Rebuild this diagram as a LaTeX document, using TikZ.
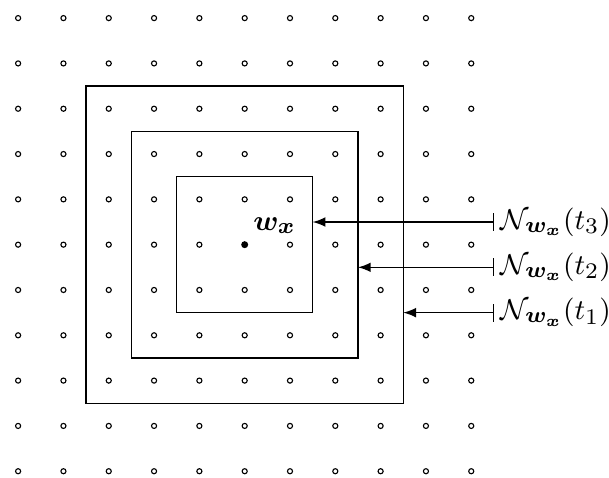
\documentclass[tikz,border=0pt]{standalone}
\usepackage{amsmath,amssymb,bm}
\begin{document}
\begin{tikzpicture}[x=0.5cm,y=0.5cm,
  every node/.style={font=\fontsize{9.5}{11}\selectfont},
  gridpt/.style={circle,draw,inner sep=0pt,minimum size=1.6pt,line width=0.35pt},
  centerpt/.style={circle,fill,inner sep=0pt,minimum size=2.2pt},
  nbhd/.style={draw,line width=0.4pt},
  lab/.style={anchor=west,inner xsep=2pt},
  pointer/.style={|-latex,line width=0.4pt}]
\useasboundingbox (-0.4,-0.13) rectangle (13.04,10.4);
\foreach \i in {0,...,10}{
  \foreach \j in {0,...,10}{
    \ifnum\i=5 \ifnum\j=5 \else \node[gridpt] (g\i-\j) at (\i,\j) {};\fi
    \else \node[gridpt] (g\i-\j) at (\i,\j) {};\fi
  }
}
\node[centerpt] (c) at (5,5) {};
\node (wx) at (5.66,5.42) {$\bm{w_x}$};
\draw[nbhd] (3.5,3.5) rectangle (6.5,6.5);
\draw[nbhd] (2.5,2.5) rectangle (7.5,7.5);
\draw[nbhd] (1.5,1.5) rectangle (8.5,8.5);
\coordinate (e3) at (6.5,5.5);
\coordinate (e2) at (7.5,4.5);
\coordinate (e1) at (8.5,3.5);
\node[lab] (l3) at (10.5,5.5) {$\mathcal{N}_{\bm{w_x}}(t_3)$};
\node[lab] (l2) at (10.5,4.5) {$\mathcal{N}_{\bm{w_x}}(t_2)$};
\node[lab] (l1) at (10.5,3.5) {$\mathcal{N}_{\bm{w_x}}(t_1)$};
\draw[pointer] (l3.west) -- (e3);
\draw[pointer] (l2.west) -- (e2);
\draw[pointer] (l1.west) -- (e1);
\end{tikzpicture}
\end{document}
